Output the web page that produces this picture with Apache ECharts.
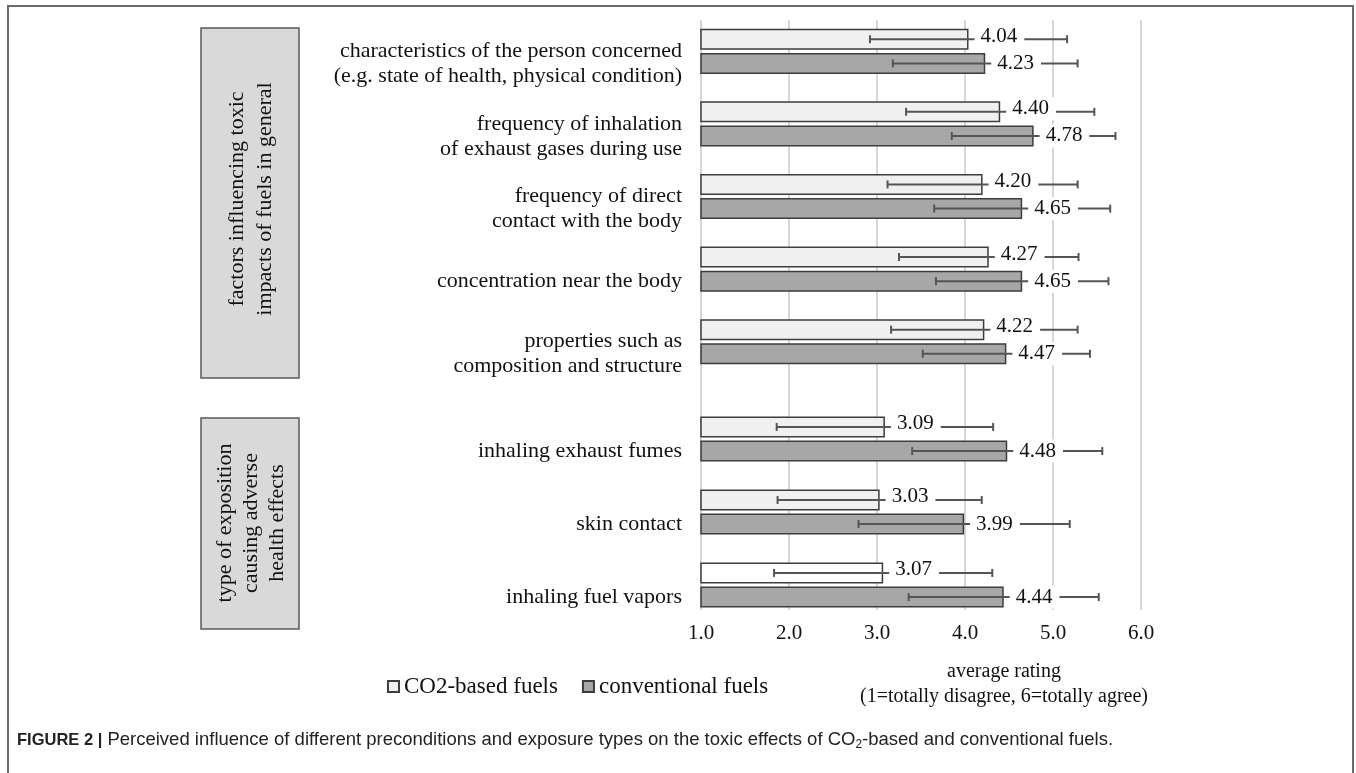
<!DOCTYPE html>
<html><head><meta charset="utf-8">
<script src="https://cdn.jsdelivr.net/npm/echarts/dist/echarts.min.js"></script>
<style>html,body{margin:0;padding:0;background:#fff}#c{width:1356px;height:773px}</style>
</head><body><div id="c"></div>
<script>
// ---------- data ----------
const categoriesA = [
  'characteristics of the person concerned\n(e.g. state of health, physical condition)',
  'frequency of inhalation\nof exhaust gases during use',
  'frequency of direct\ncontact with the body',
  'concentration near the body',
  'properties such as\ncomposition and structure'
];
const categoriesB = ['inhaling exhaust fumes', 'skin contact', 'inhaling fuel vapors'];
const co2A  = [4.04, 4.40, 4.20, 4.27, 4.22];
const convA = [4.23, 4.78, 4.65, 4.65, 4.47];
const co2B  = [3.09, 3.03, 3.07];
const convB = [4.48, 3.99, 4.44];
const co2ErrA  = [1.12, 1.07, 1.08, 1.02, 1.06];
const convErrA = [1.05, 0.93, 1.00, 0.98, 0.95];
const co2ErrB  = [1.23, 1.16, 1.24];
const convErrB = [1.08, 1.20, 1.08];
const seriesNames = ['CO2-based fuels', 'conventional fuels'];
const groupTitles = ['factors influencing toxic\nimpacts of fuels in general',
                     'type of exposition\ncausing adverse\nhealth effects'];
const axisMin = 1, axisMax = 6, axisStep = 1;
const axisTitle = 'average rating\n(1=totally disagree, 6=totally agree)';

// ---------- style ----------
const SERIF = '"Liberation Serif", "Times New Roman", serif';
const SANS = '"Liberation Sans", Arial, sans-serif';
const BAR_W = 21, BAR_GAP = 0.15;
const co2Color = '#f0f0f0', convColor = '#a7a7a7', edge = '#3d3d3d';
const errColor = '#555555';

const chart = echarts.init(document.getElementById('c'));

function errSeries(name, gi, vals, errs, slot) {
  return {
    type: 'custom', name: name, xAxisIndex: gi, yAxisIndex: gi, z: 5,
    silent: true, legendHoverLink: false,
    data: vals.map((v, i) => [v, i, errs[i]]),
    encode: { x: 0, y: 1 },
    renderItem: function (params, api) {
      const v = api.value(0), c = api.value(1), e = api.value(2);
      const p = api.coord([v, c]);
      const y = p[1] + slot * (BAR_W * (1 + BAR_GAP)) / 2;
      const x0 = api.coord([v - e, c])[0], x1 = api.coord([v + e, c])[0];
      const ls = { stroke: errColor, lineWidth: 2 };
      return {
        type: 'group',
        children: [
          { type: 'line', shape: { x1: x0, y1: y, x2: x1, y2: y }, style: ls },
          { type: 'line', shape: { x1: x0, y1: y - 4, x2: x0, y2: y + 4 }, style: ls },
          { type: 'line', shape: { x1: x1, y1: y - 4, x2: x1, y2: y + 4 }, style: ls },
          { type: 'text', x: p[0] + 6, y: y + (slot < 0 ? -3 : 0), z2: 10,
            style: { text: v.toFixed(2), font: '21px ' + SERIF, fill: '#111',
                     align: 'left', verticalAlign: 'middle',
                     backgroundColor: '#fff', padding: [1, 7, 1, 6] } }
        ]
      };
    }
  };
}

function barSeries(name, gi, vals, color, white) {
  return {
    type: 'bar', name: name, xAxisIndex: gi, yAxisIndex: gi, data: vals,
    barWidth: BAR_W, barGap: (BAR_GAP * 100) + '%', clip: true, z: 2,
    itemStyle: {
      color: white ? function (p) { return p.dataIndex === vals.length - 1 ? '#ffffff' : color; } : color,
      borderColor: edge, borderWidth: 1.5
    }
  };
}

const catAxis = (gi, data) => ({
  type: 'category', gridIndex: gi, data: data, inverse: true,
  axisLine: { show: false }, axisTick: { show: false }, splitLine: { show: false },
  axisLabel: { interval: 0, showMinLabel: true, showMaxLabel: true, hideOverlap: false,
               margin: 19, fontFamily: SERIF, fontSize: 22, lineHeight: 25, color: '#111',
               align: 'right', formatter: v => '\n' + v }
});
const hiddenX = (gi) => ({ type: 'value', gridIndex: gi, min: axisMin, max: axisMax, interval: axisStep, show: false });

const option = {
  animation: false,
  backgroundColor: '#fff',
  grid: [
    { left: 701, width: 440, top: 15, height: 363, outerBoundsMode: 'none' },
    { left: 701, width: 440, top: 402.5, height: 219, outerBoundsMode: 'none' },
    { left: 701, width: 440, top: 20, height: 590, outerBoundsMode: 'none' }
  ],
  xAxis: [
    hiddenX(0), hiddenX(1),
    { type: 'value', gridIndex: 2, min: axisMin, max: axisMax, interval: axisStep,
      axisLine: { show: false }, axisTick: { show: false },
      splitLine: { show: true, lineStyle: { color: '#d6d6d6', width: 2 } },
      axisLabel: { margin: 13, fontFamily: SERIF, fontSize: 21, color: '#111',
                   formatter: v => v.toFixed(1) } }
  ],
  yAxis: [
    catAxis(0, categoriesA), catAxis(1, categoriesB),
    { type: 'value', gridIndex: 2, show: false }
  ],
  legend: {
    data: seriesNames, left: 382, top: 670, icon: 'rect', itemWidth: 11, itemHeight: 11,
    itemGap: 24, selectedMode: false,
    textStyle: { fontFamily: SERIF, fontSize: 23, color: '#111' }
  },
  series: [
    barSeries(seriesNames[0], 0, co2A, co2Color, false),
    barSeries(seriesNames[1], 0, convA, convColor, false),
    barSeries(seriesNames[0], 1, co2B, co2Color, true),
    barSeries(seriesNames[1], 1, convB, convColor, false),
    errSeries(seriesNames[0], 0, co2A, co2ErrA, -1),
    errSeries(seriesNames[1], 0, convA, convErrA, 1),
    errSeries(seriesNames[0], 1, co2B, co2ErrB, -1),
    errSeries(seriesNames[1], 1, convB, convErrB, 1)
  ],
  graphic: [
    { type: 'rect', shape: { x: 8, y: 6, width: 1345, height: 820 },
      style: { fill: 'none', stroke: '#6b6b6b', lineWidth: 2 }, z: 0 },
    { type: 'rect', shape: { x: 201, y: 28, width: 98, height: 350 },
      style: { fill: '#d9d9d9', stroke: '#5a5a5a', lineWidth: 1.5 } },
    { type: 'rect', shape: { x: 201, y: 418, width: 98, height: 211 },
      style: { fill: '#d9d9d9', stroke: '#5a5a5a', lineWidth: 1.5 } },
    { type: 'text', x: 251, y: 199, rotation: Math.PI / 2,
      style: { text: groupTitles[0], font: '22px ' + SERIF, lineHeight: 28, fill: '#111',
               align: 'center', verticalAlign: 'middle' } },
    { type: 'text', x: 251, y: 523, rotation: Math.PI / 2,
      style: { text: groupTitles[1], font: '22px ' + SERIF, lineHeight: 26, fill: '#111',
               align: 'center', verticalAlign: 'middle' } },
    { type: 'text', x: 1004, y: 684,
      style: { text: axisTitle, font: '20px ' + SERIF, lineHeight: 25, fill: '#111',
               align: 'center', verticalAlign: 'middle' } },
    { type: 'text', x: 17, y: 740,
      style: {
        text: '{b|FIGURE 2 |} Perceived influence of different preconditions and exposure types on the toxic effects of CO{s|2}-based and conventional fuels.',
        font: '18.5px ' + SANS, fill: '#222', verticalAlign: 'middle',
        rich: {
          b: { fontWeight: 'bold', fontSize: 16.5, fontFamily: SANS, fill: '#222' },
          s: { fontSize: 12, fontFamily: SANS, fill: '#222', padding: [9, 0, 0, 0] }
        }
      } }
  ]
};
chart.setOption(option);
</script>
</body></html>
